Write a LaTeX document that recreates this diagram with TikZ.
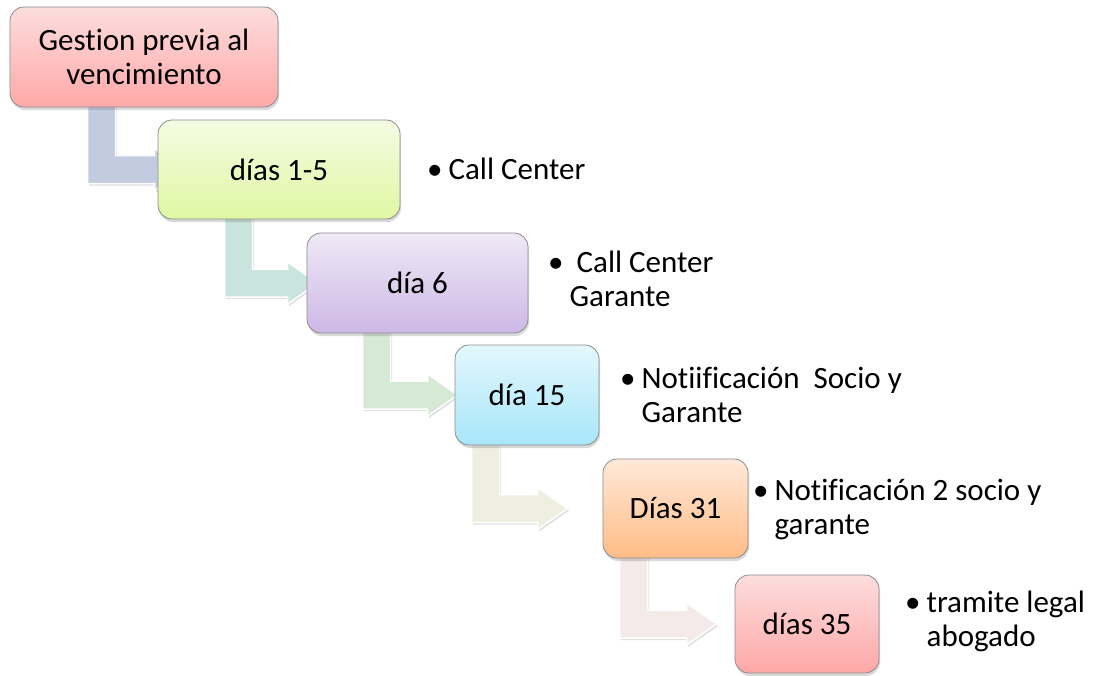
\documentclass[tikz,border=0pt]{standalone}
\usepackage{fontspec}
\setmainfont{Carlito}[RawFeature={-liga;-clig;-dlig;-calt}]
\usetikzlibrary{calc,shadows,backgrounds}

\definecolor{rosaA}{HTML}{FDDDDD}
\definecolor{rosaB}{HTML}{FFA8A8}
\definecolor{verdeA}{HTML}{F5FBE4}
\definecolor{verdeB}{HTML}{DFF7A2}
\definecolor{lilaA}{HTML}{EFE9F6}
\definecolor{lilaB}{HTML}{CDB8E6}
\definecolor{celesteA}{HTML}{E3F7FD}
\definecolor{celesteB}{HTML}{A8E6FA}
\definecolor{naranjaA}{HTML}{FFE9D9}
\definecolor{naranjaB}{HTML}{FFBC86}
\definecolor{flecha0}{HTML}{C2CBE0}
\definecolor{flecha1}{HTML}{C9E4DC}
\definecolor{flecha2}{HTML}{D6E9D4}
\definecolor{flecha3}{HTML}{EFEFE1}
\definecolor{flecha4}{HTML}{F3EAE9}

\tikzset{
  etapa/.style={draw=black!45, line width=.8pt, rounded corners=14pt,
    align=center, inner sep=0pt,
    drop shadow={opacity=.3, shadow xshift=1pt, shadow yshift=-3pt}},
  item/.style={anchor=base west, inner sep=0pt},
  benda/.style={draw=white, line width=1.5pt,
    drop shadow={opacity=.25, shadow xshift=1.5pt, shadow yshift=-2pt}}
}

% bent arrow: from, to, stem offset, head offset, colour
\newcommand\bendarrow[5]{%
  \coordinate (st) at ($(#1.south west)+(#3,-3)$);
  \coordinate (hd) at ($(#2.west)+(#4,0)$);
  \fill[benda, fill=#5] (st) -- ++(28,0) |- ($(hd)+(0,-14)$) -- ++(0,-7)
    -- ++(30,21) -- ++(-30,21) -- ++(0,-7) -| (st) -- cycle;
}
\newcommand\puntos[1]{\begin{tabular}[t]{@{}l@{\hspace{6pt}}l@{}}#1\end{tabular}}

\begin{document}
\begin{tikzpicture}[x=1pt, y=-1pt, every node/.style={font=\fontsize{31}{34}\selectfont}]
  \useasboundingbox (0,0) rectangle (1100,675);

  % etapas
  \path
    (144,57)    node[etapa, minimum width=268, minimum height=100, top color=rosaA, bottom color=rosaB] (b0) {Gestion previa al\\vencimiento}
    (279,169.5) node[etapa, minimum width=242, minimum height=99, top color=verdeA, bottom color=verdeB] (b1) {días 1-5}
    (417.5,283) node[etapa, minimum width=221, minimum height=100, top color=lilaA, bottom color=lilaB] (b2) {día 6}
    (527,395)   node[etapa, minimum width=144, minimum height=100, top color=celesteA, bottom color=celesteB] (b3) {día 15}
    (675.5,508.5) node[etapa, minimum width=145, minimum height=99, top color=naranjaA, bottom color=naranjaB] (b4) {Días 31}
    (807,624)   node[etapa, minimum width=144, minimum height=98, top color=rosaA, bottom color=rosaB] (b5) {días 35};

  % flechas, behind the boxes
  \begin{scope}[on background layer]
    \bendarrow{b0}{b1}{78}{-3}{flecha0}
    \bendarrow{b1}{b2}{67}{-19}{flecha1}
    \bendarrow{b2}{b3}{56}{-27}{flecha2}
    \bendarrow{b3}{b4}{17}{-65}{flecha3}
    \bendarrow{b4}{b5}{17}{-48}{flecha4}
  \end{scope}

  % textos
  \node[item] (t1) at (427,179) {\puntos{•&Call Center}};
  \node[item] (t2) at (548,272) {\puntos{•&\ Call Center\\&Garante}};
  \node[item] (t3) at (620,388) {\puntos{•&Notiificación\ \ Socio y\\&Garante}};
  \node[item] (t4) at (753,500) {\puntos{•&Notificación 2 socio y\\&garante}};
  \node[item] (t5) at (905,612) {\puntos{•&tramite legal\\&abogado}};
\end{tikzpicture}
\end{document}
